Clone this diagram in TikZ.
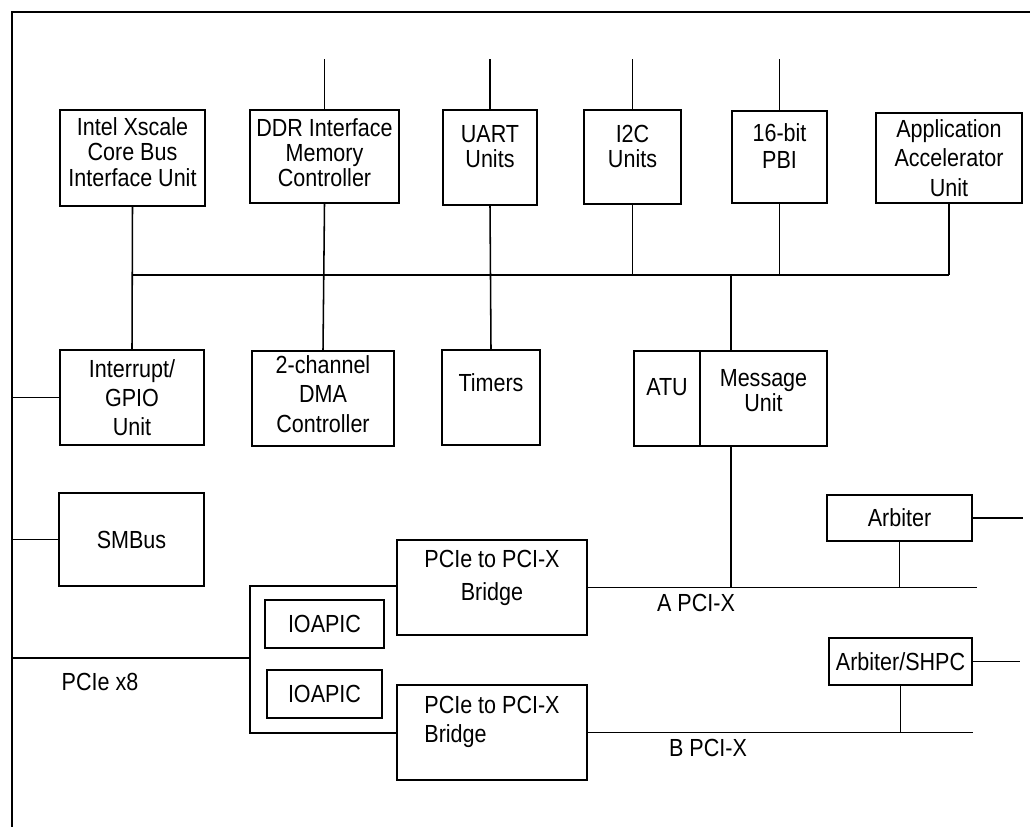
\documentclass[tikz,border=0pt]{standalone}
\usepackage{fontspec}
\setmainfont{Liberation Sans}[FakeStretch=0.87]
\usepackage{tikz}

\begin{document}
\begin{tikzpicture}[x=0.025cm,y=-0.025cm,line width=1.1pt,
		font=\fontsize{17.6}{17.8}\selectfont]
		\tikzstyle{unit}=[draw,align=center,inner sep=0pt]
		\tikzstyle{lift}=[text depth=#1]
		\useasboundingbox (0,0) rectangle (1030,827);
		
		\coordinate (tl) at (12,12);
		\draw (1030,12) -- (tl) -- (12,827);
		
		\node[unit,minimum width=3.625cm,minimum height=2.4cm,lift=8.5pt]   (xscale) at (132.5,158)  {Intel Xscale\\Core Bus\\Interface Unit};
		\node[unit,minimum width=3.725cm,minimum height=2.325cm,lift=5pt]   (DDR)    at (324.5,156.5) {DDR Interface\\Memory\\Controller};
		\node[unit,minimum width=2.35cm,minimum height=2.375cm,lift=15.6pt] (UART)   at (490,157.5)   {UART\\Units};
		\node[unit,minimum width=2.425cm,minimum height=2.35cm,lift=15.6pt] (I2C)    at (632.5,157)   {I2C\\Units};
		\node[unit,minimum width=2.375cm,minimum height=2.3cm,lift=15.6pt]  (PBI)    at (779.5,157)   {16-bit\\[2pt]PBI};
		\node[unit,minimum width=3.65cm,minimum height=2.25cm]              (AAU)    at (949,158)     {Application\\[3pt]Accelerator\\[3pt]Unit};
		
		\node[unit,minimum width=3.6cm,minimum height=2.375cm]              (intr)   at (132,397.5)   {Interrupt/\\[3pt]GPIO\\[3pt]Unit};
		\node[unit,minimum width=3.55cm,minimum height=2.375cm,lift=6.4pt]  (DMA)    at (323,398.5)   {2-channel\\[3pt]DMA\\[3pt]Controller};
		\node[unit,minimum width=2.45cm,minimum height=2.375cm,lift=21pt]   (timers) at (491,397.5)   {Timers};
		\node[unit,minimum width=1.65cm,minimum height=2.375cm,lift=16.4pt] (ATU)    at (667,398.5)   {ATU};
		\node[unit,minimum width=3.175cm,minimum height=2.375cm,lift=12pt]  (msg)    at (763.5,398.5) {Message\\Unit};
		
		\node[unit,minimum width=3.625cm,minimum height=2.325cm]            (smbus)  at (131.5,539.5) {SMBus};
		\node[unit,minimum width=2.975cm,minimum height=1.2cm]              (ioapicA) at (324.5,624)  {IOAPIC};
		\node[unit,minimum width=2.875cm,minimum height=1.2cm]              (ioapicB) at (324.5,694)  {IOAPIC};
		\node[unit,minimum width=4.75cm,minimum height=2.375cm,lift=17.2pt] (bridgeA) at (492,587.5)  {PCIe to PCI-X\\[5.7pt]Bridge};
		\node[unit,align=left,minimum width=4.75cm,minimum height=2.375cm,lift=18.7pt] (bridgeB) at (492,732.5) {PCIe to PCI-X\\[3.5pt]Bridge};
		\node[unit,minimum width=3.625cm,minimum height=1.15cm]             (arb)    at (899.5,518)   {Arbiter};
		\node[unit,minimum width=3.575cm,minimum height=1.175cm]            (arbs)   at (900.5,661.5) {Arbiter/SHPC};
		
		\node (apcix)  at (696,603) {A PCI-X};
		\node (bpcix)  at (708,748) {B PCI-X};
		\node (pciex8) at (100,682) {PCIe x8};
		
		\coordinate (pins) at (0,59);
		\coordinate (bus)  at (0,275);
		\coordinate (tap)  at (731,0);
		\coordinate (abus) at (977,588);
		\coordinate (bbus) at (973,733);
		\coordinate (aout) at (1023,518);
		\coordinate (bout) at (1020,663);
		\coordinate (brkT) at (250,586);
		\coordinate (brkB) at (250,733);
		\coordinate (x8)   at (250,658);
		
		\foreach \n in {DDR,UART,I2C,PBI}
		\draw (\n.north) -- (\n.north |- pins);
		\draw (xscale.south |- bus) -- (AAU.south |- bus);
		\draw (xscale.south) -- (intr.north);
		\draw (DDR.south) -- (DMA.north);
		\draw (UART.south) -- (timers.north);
		\foreach \n in {I2C,PBI,AAU}
		\draw (\n.south) -- (\n.south |- bus);
		\draw (tap |- bus) -- (tap |- msg.north);
		\draw (tap |- msg.south) -- (tap |- abus);
		
		\draw (intr.west) -- (intr.west -| tl);
		\draw (smbus.west) -- (smbus.west -| tl);
		\draw (x8 -| tl) -- (x8);
		\draw (brkT -| bridgeA.west) -- (brkT) -- (brkB) -- (brkB -| bridgeB.west);
		
		\draw (bridgeA.east) -- (bridgeA.east -| abus);
		\draw (arb.south) -- (arb.south |- abus);
		\draw (arb.east) -- (arb.east -| aout);
		\draw (bridgeB.east) -- (bridgeB.east -| bbus);
		\draw (arbs.south) -- (arbs.south |- bbus);
		\draw (arbs.east) -- (arbs.east -| bout);
\end{tikzpicture}
\end{document}
